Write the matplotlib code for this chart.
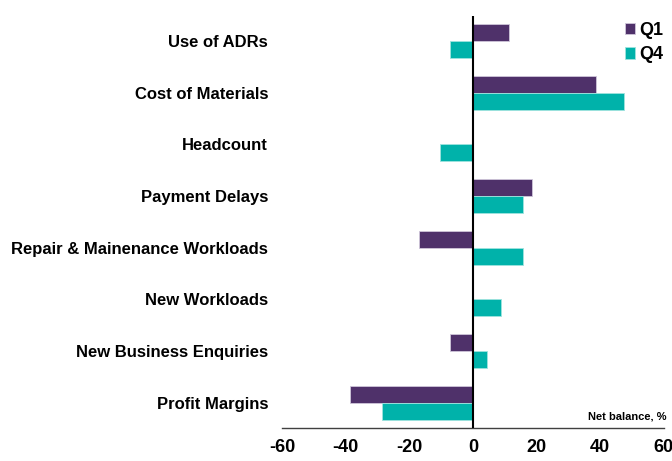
import matplotlib.pyplot as plt
import numpy as np

plt.rcParams["font.family"] = ["Liberation Sans", "DejaVu Sans"]
plt.rcParams["font.weight"] = "bold"

categories = [
    "Use of ADRs",
    "Cost of Materials",
    "Headcount",
    "Payment Delays",
    "Repair & Mainenance Workloads",
    "New Workloads",
    "New Business Enquiries",
    "Profit Margins",
]
q1 = [11.3, 38.7, 0, 18.4, -16.8, 0, -7.2, -38.6]
q4 = [-7.2, 47.6, -10.2, 15.8, 15.8, 8.7, 4.4, -28.7]
xticks = [-60, -40, -20, 0, 20, 40, 60]

purple = "#4f316a"
teal = "#00b2aa"

fig = plt.figure(figsize=(6.72, 4.61), dpi=100)
ax = fig.add_axes([0.4196, 0.0716, 0.5684, 0.8934])

y = np.arange(len(categories))
h = 0.33
ax.barh(y - h / 2, q1, height=h, color=purple, edgecolor="#cfc6da", linewidth=0.6, label="Q1")
ax.barh(y + h / 2, q4, height=h, color=teal, edgecolor="#9fe3de", linewidth=0.6, label="Q4")

ax.axvline(0, color="black", lw=1.5, zorder=3)

ax.set_xlim(-60, 60)
ax.set_ylim(7.49, -0.48)
ax.set_yticks(y)
ax.set_yticklabels(categories, fontsize=12, fontweight="bold")
ax.set_xticks(xticks)
ax.set_xticklabels([str(t) for t in xticks], fontsize=13, fontweight="bold")
ax.tick_params(axis="y", length=0, pad=10)
ax.tick_params(axis="x", length=0, pad=8)

for s in ["top", "right", "left"]:
    ax.spines[s].set_visible(False)
ax.spines["bottom"].set_color("#404040")
ax.spines["bottom"].set_linewidth(1.0)

ax.text(1.008, 0.015, "Net balance, %", transform=ax.transAxes, ha="right",
        va="bottom", fontsize=8, fontweight="bold")

ax.legend(loc="upper right", bbox_to_anchor=(1.04, 1.025), frameon=False,
          handlelength=0.6, handleheight=0.6, handletextpad=0.2,
          labelspacing=0.4, prop={"size": 13, "weight": "bold"})

fig.savefig("out.png", dpi=100)
